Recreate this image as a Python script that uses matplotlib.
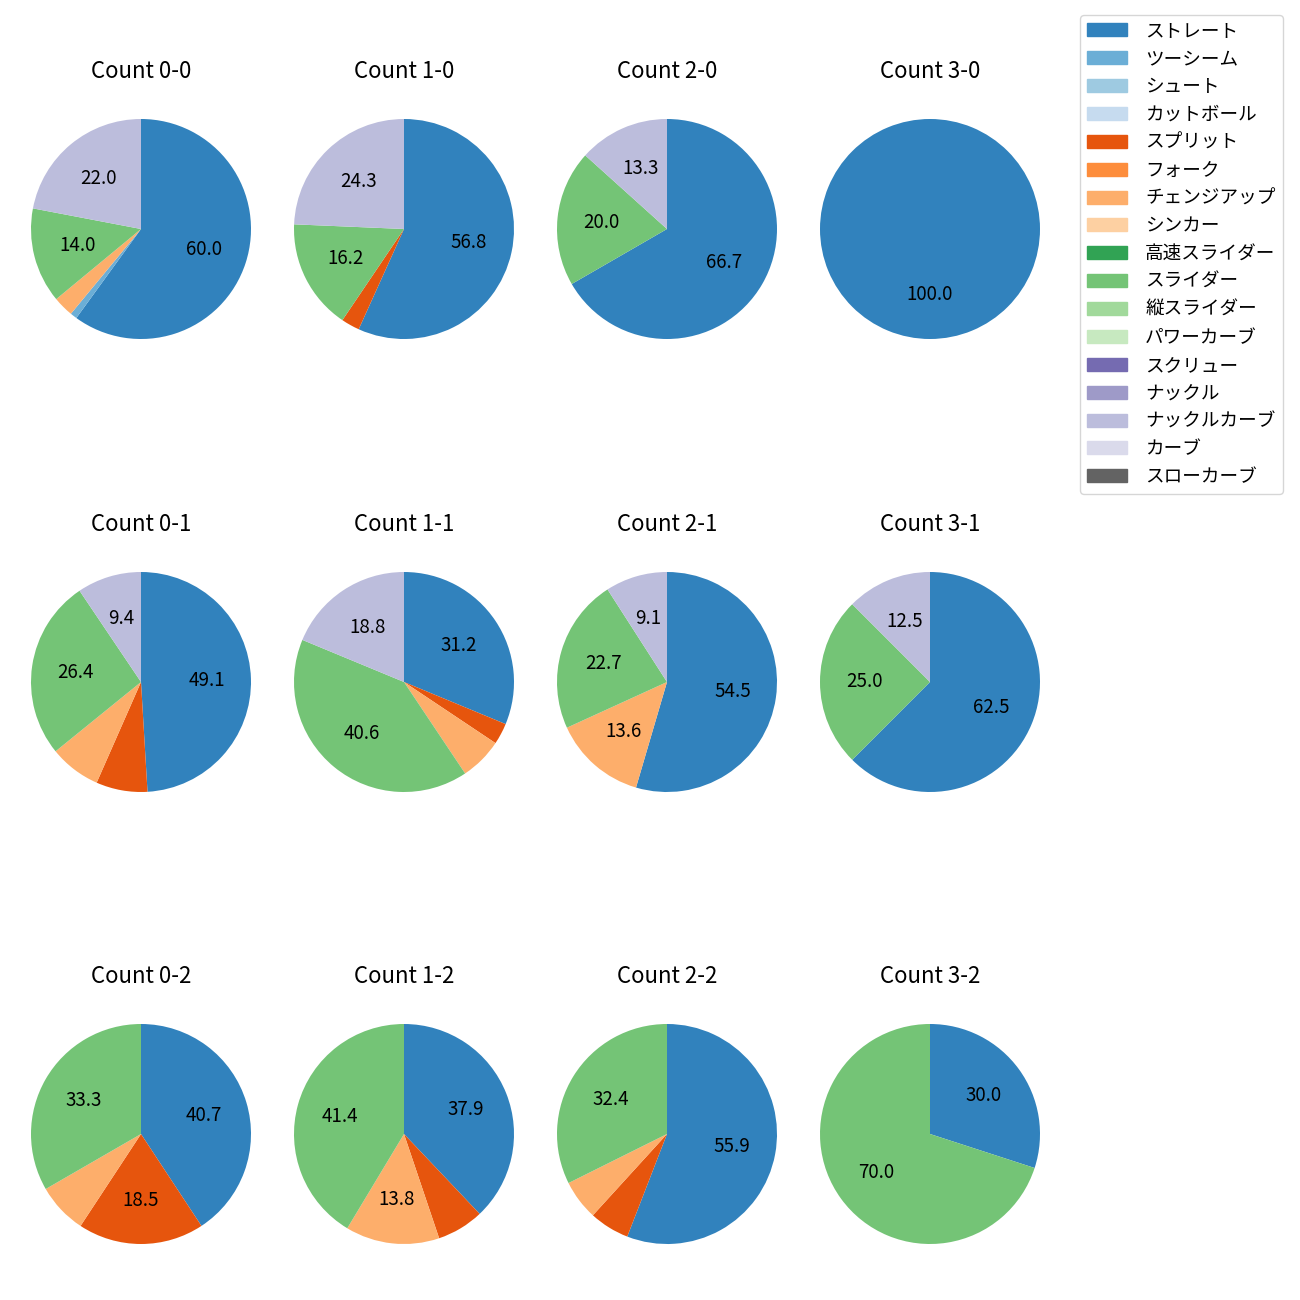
import matplotlib
matplotlib.use('Agg')
import matplotlib.pyplot as plt
from matplotlib.patches import Patch

plt.rcParams['font.family'] = ['Noto Sans CJK JP', 'DejaVu Sans']

# pitch types and colours (legend order)
pitch_types = ['ストレート', 'ツーシーム', 'シュート', 'カットボール', 'スプリット', 'フォーク',
               'チェンジアップ', 'シンカー', '高速スライダー', 'スライダー', '縦スライダー',
               'パワーカーブ', 'スクリュー', 'ナックル', 'ナックルカーブ', 'カーブ', 'スローカーブ']
colors = ['#3182bd', '#6baed6', '#9ecae1', '#c6dbef', '#e6550d', '#fd8d3c',
          '#fdae6b', '#fdd0a2', '#31a354', '#74c476', '#a1d99b', '#c7e9c0',
          '#756bb1', '#9e9ac8', '#bcbddc', '#dadaeb', '#636363']

# counts, row by row (strikes 0..2), columns balls 0..3
count_labels = ['0-0', '1-0', '2-0', '3-0',
                '0-1', '1-1', '2-1', '3-1',
                '0-2', '1-2', '2-2', '3-2']

# pitch counts per ball-strike count
straight = [60, 21, 10, 1, 26, 10, 12, 5, 11, 11, 19, 3]
twoseam = [1, 0, 0, 0, 0, 0, 0, 0, 0, 0, 0, 0]
split = [0, 1, 0, 0, 4, 1, 0, 0, 5, 2, 2, 0]
changeup = [3, 0, 0, 0, 4, 2, 3, 0, 2, 4, 2, 0]
slider = [14, 6, 3, 0, 14, 13, 5, 2, 9, 12, 11, 7]
knuckle_curve = [22, 9, 2, 0, 5, 6, 2, 1, 0, 0, 0, 0]

series = {
    'ストレート': straight,
    'ツーシーム': twoseam,
    'スプリット': split,
    'チェンジアップ': changeup,
    'スライダー': slider,
    'ナックルカーブ': knuckle_curve,
}

fig = plt.figure(figsize=(13, 13), dpi=100)

centers_x = [141, 404, 667, 930]
centers_y = [229, 682, 1134]
size = 275  # px, pie radius ~110 px

for i, cnt in enumerate(count_labels):
    row, col = divmod(i, 4)
    cx, cy = centers_x[col], centers_y[row]
    ax = fig.add_axes([(cx - size / 2) / 1300, 1 - (cy + size / 2) / 1300,
                       size / 1300, size / 1300])
    vals, cols = [], []
    for name, arr in series.items():
        if arr[i] > 0:
            vals.append(arr[i])
            cols.append(colors[pitch_types.index(name)])
    ax.pie(vals, colors=cols, startangle=90, counterclock=False,
           autopct=lambda p: f'{p:.1f}' if p >= 9 else '',
           textprops={'fontsize': 13.5})
    ax.set_title(f'Count {cnt}', fontsize=16, pad=10)

handles = [Patch(color=c) for c in colors]
fig.legend(handles, pitch_types, loc='upper right', borderaxespad=0,
           bbox_to_anchor=(1283 / 1300, 1 - 15 / 1300), fontsize=13.4,
           labelspacing=0.53, handlelength=2.1, handletextpad=1.0)

fig.savefig('out.png')
